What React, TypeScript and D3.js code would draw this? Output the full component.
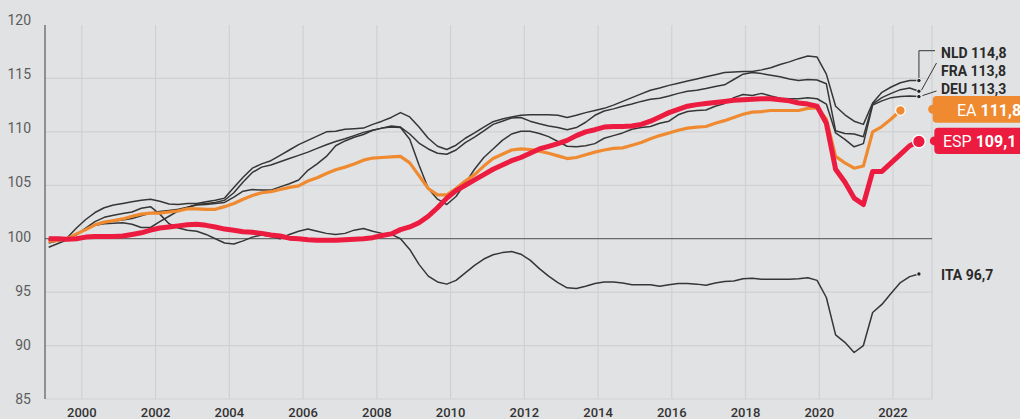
import React from "react";
import * as d3 from "d3";

// ---------- data (quarterly, 1999Q1 ...) ----------
const xTickYears = [2000, 2002, 2004, 2006, 2008, 2010, 2012, 2014, 2016, 2018, 2020, 2022];
const yTickValues = [85, 90, 95, 100, 105, 110, 115, 120];
const gridValues = [85, 90, 95, 105, 110, 115];
const firstQuarter = 1999.1;
const quarterStep = 0.2511;

const esp = [
  100.0, 100.0, 99.95, 100.0,
  100.15, 100.2, 100.2, 100.2,
  100.25, 100.4, 100.55, 100.8,
  101.0, 101.1, 101.2, 101.3,
  101.35, 101.25, 101.1, 100.9,
  100.8, 100.65, 100.6, 100.5,
  100.35, 100.25, 100.05, 100.0,
  99.9, 99.85, 99.85, 99.85,
  99.9, 99.95, 100.0, 100.1,
  100.3, 100.45, 100.85, 101.1,
  101.5, 102.1, 102.9, 103.8,
  104.5, 105.0, 105.5, 106.0,
  106.5, 106.9, 107.3, 107.6,
  108.0, 108.4, 108.65, 108.9,
  109.2, 109.65, 110.0, 110.2,
  110.45, 110.5, 110.5, 110.55,
  110.7, 111.0, 111.4, 111.8,
  112.1, 112.4, 112.55, 112.65,
  112.75, 112.85, 112.95, 113.0,
  113.05, 113.1, 113.1, 113.0,
  112.9, 112.7, 112.6, 112.4,
  110.8, 106.5, 105.3, 103.8,
  103.2, 106.3, 106.3, 107.1,
  107.9, 108.7, 109.1,
];

const ea = [
  99.75, 99.85, 100.0, 100.45,
  100.85, 101.3, 101.55, 101.7,
  101.85, 102.1, 102.3, 102.4,
  102.4, 102.5, 102.6, 102.8,
  102.8, 102.75, 102.75, 103.0,
  103.3, 103.7, 104.05, 104.3,
  104.4, 104.6, 104.8, 104.95,
  105.4, 105.7, 106.1, 106.45,
  106.7, 107.0, 107.35, 107.55,
  107.6, 107.65, 107.7, 107.1,
  105.9, 104.7, 104.1, 104.1,
  104.7, 105.4, 106.0, 106.8,
  107.5, 107.9, 108.3, 108.4,
  108.35, 108.2, 108.0, 107.75,
  107.5, 107.6, 107.85, 108.1,
  108.3, 108.45, 108.5, 108.75,
  109.0, 109.35, 109.65, 109.9,
  110.15, 110.35, 110.45, 110.5,
  110.8, 111.05, 111.35, 111.65,
  111.85, 111.9, 112.0, 112.0,
  112.0, 112.0, 112.2, 112.25,
  111.2, 107.7, 107.1, 106.6,
  106.8, 110.0, 110.5, 111.2,
  112.0,
];

const nld = [
  99.6, 99.8, 100.1, 101.0,
  101.8, 102.45, 102.9, 103.15,
  103.3, 103.45, 103.6, 103.7,
  103.5, 103.25, 103.2, 103.3,
  103.3, 103.45, 103.6, 103.8,
  104.8, 105.75, 106.6, 107.0,
  107.3, 107.8, 108.3, 108.8,
  109.2, 109.6, 110.0, 110.05,
  110.25, 110.3, 110.35, 110.7,
  111.0, 111.35, 111.8, 111.4,
  110.45, 109.4, 108.65, 108.35,
  108.75, 109.4, 109.9, 110.45,
  110.95, 111.2, 111.4, 111.55,
  111.6, 111.6, 111.6, 111.55,
  111.35, 111.55, 111.8, 112.0,
  112.2, 112.5, 112.85, 113.2,
  113.55, 113.9, 114.1, 114.35,
  114.55, 114.75, 114.95, 115.15,
  115.35, 115.55, 115.6, 115.65,
  115.65, 115.8, 116.0, 116.3,
  116.55, 116.85, 117.1, 117.0,
  115.4, 112.4, 111.6, 111.0,
  110.7, 112.7, 113.7, 114.2,
  114.6, 114.8, 114.8,
];

const fra = [
  99.9, 99.85, 100.0, 100.4,
  100.9, 101.3, 101.55, 101.65,
  101.75, 101.9, 102.15, 102.4,
  102.55, 102.65, 102.75, 102.95,
  103.2, 103.3, 103.4, 103.6,
  104.3, 105.3, 106.2, 106.7,
  106.9, 107.2, 107.5, 107.8,
  108.1, 108.45, 108.8, 109.1,
  109.35, 109.65, 109.95, 110.15,
  110.35, 110.55, 110.45, 109.8,
  108.95, 108.4, 108.0, 107.9,
  108.3, 109.0, 109.5, 110.1,
  110.7, 111.0, 111.3, 111.35,
  111.0, 110.75, 110.55, 110.4,
  110.2, 110.4, 110.9, 111.55,
  111.95, 112.15, 112.4, 112.6,
  112.85, 113.05, 113.15, 113.35,
  113.6, 113.8, 113.9, 114.05,
  114.25, 114.4, 114.9, 115.4,
  115.55, 115.45, 115.3, 115.15,
  114.95, 114.8, 114.9, 114.85,
  114.5, 110.1, 109.85, 109.8,
  109.55, 112.6, 113.2, 113.6,
  113.95, 114.1, 113.8,
];

const deu = [
  99.2, 99.55, 99.9, 100.45,
  100.9, 101.25, 101.4, 101.45,
  101.5, 101.35, 101.05, 101.05,
  101.6, 102.1, 102.6, 102.95,
  103.15, 103.2, 103.3, 103.4,
  103.9, 104.45, 104.6, 104.55,
  104.55, 104.85, 105.15, 105.5,
  106.4, 107.0, 107.7, 108.7,
  109.15, 109.5, 109.75, 110.15,
  110.35, 110.45, 110.4, 109.3,
  106.9, 104.7, 103.7, 103.2,
  103.95, 105.2, 106.5, 107.6,
  108.4, 109.2, 109.8, 110.05,
  110.05, 109.85, 109.55, 109.1,
  108.65, 108.6, 108.7, 108.9,
  109.4, 109.65, 109.9, 110.25,
  110.4, 110.5, 110.8, 111.0,
  111.6, 111.9, 112.0, 112.05,
  112.4, 112.65, 113.2, 113.5,
  113.4, 113.6, 113.35, 113.15,
  113.1, 113.1, 113.2, 113.1,
  112.6, 109.9, 109.3, 108.6,
  108.9, 112.5, 112.9, 113.2,
  113.3, 113.35, 113.3,
];

const ita = [
  99.9, 99.8, 100.05, 100.35,
  101.0, 101.6, 102.0, 102.2,
  102.35, 102.5, 102.85, 103.0,
  102.3, 101.4, 101.0, 100.8,
  100.7, 100.4, 100.0, 99.6,
  99.5, 99.8, 100.15, 100.35,
  100.2, 100.0, 100.4, 100.7,
  100.9, 100.7, 100.5, 100.4,
  100.5, 100.8, 100.95, 100.7,
  100.5, 100.4, 100.0, 99.0,
  97.6, 96.5, 95.95, 95.75,
  96.1, 96.8, 97.5, 98.1,
  98.5, 98.7, 98.8, 98.55,
  98.0, 97.2, 96.5, 95.9,
  95.4, 95.35, 95.55, 95.8,
  95.95, 95.95, 95.85, 95.7,
  95.7, 95.7, 95.55, 95.7,
  95.8, 95.8, 95.75, 95.65,
  95.85, 96.0, 96.05, 96.25,
  96.3, 96.2, 96.2, 96.2,
  96.2, 96.25, 96.35, 96.1,
  94.5, 91.0, 90.3, 89.35,
  90.0, 93.1, 93.85, 94.9,
  95.9, 96.45, 96.7,
];

const greyNames = ["NLD", "FRA", "DEU", "ITA"];
const greyValues = ["114,8", "113,8", "113,3", "96,7"];
const eaLabel = ["EA", "111,8"];
const espLabel = ["ESP", "109,1"];

// ---------- layout ----------
const W = 1020;
const H = 419;
const L = 45;
const R = 932;
const T = 25;
const B = 399;
const BG = "#e1e2e4";
const GRID = "#d0d1d4";
const GREY = "#363636";
const ORANGE = "#ef8a30";
const RED = "#ec1b40";
const FONT = "Roboto, 'Noto Sans', sans-serif";

export default function App() {
  const x = d3.scaleLinear().domain([1999, 2023.058]).range([L, R]);
  const y = d3.scaleLinear().domain([85, 120]).range([B, T]);
  const yLab = d3.scaleLinear().domain([85, 120]).range([B, 20]);
  const tq = (i: number) => firstQuarter + i * quarterStep;
  const line = d3
    .line<number>()
    .x((_, i) => x(tq(i)))
    .y((d) => y(d))
    .curve(d3.curveLinear);

  const greys = [nld, fra, deu, ita];
  const lastX = (arr: number[]) => x(tq(arr.length - 1));
  const lastY = (arr: number[]) => y(arr[arr.length - 1]);

  const greyLabelY = [58, 76, 94, lastY(ita) + 6];

  const eaX = lastX(ea);
  const eaY = lastY(ea);
  const espX = lastX(esp);
  const espY = lastY(esp);

  const nx = lastX(nld);
  const ny = lastY(nld);
  const fy = lastY(fra);
  const dy = lastY(deu);

  return (
    <div style={{ position: "absolute", left: 0, top: 0, width: W, height: H }}>
      <svg width={W} height={H} style={{ display: "block", fontFamily: FONT }}>
        <rect x={0} y={0} width={W} height={H} fill={BG} />

        {/* grid */}
        {gridValues.map((v) => (
          <line key={"h" + v} x1={L} x2={R} y1={y(v)} y2={y(v)} stroke={GRID} strokeWidth={1.2} />
        ))}
        {xTickYears.map((yr) => (
          <line key={"v" + yr} x1={x(yr)} x2={x(yr)} y1={T} y2={B} stroke={GRID} strokeWidth={1.2} />
        ))}
        <line x1={R} x2={R} y1={T} y2={B} stroke={GRID} strokeWidth={1.2} />
        <line x1={L} x2={R} y1={y(100)} y2={y(100)} stroke="#6a6a6a" strokeWidth={1.2} />
        <line x1={L} x2={L} y1={T} y2={B} stroke="#5a5a5a" strokeWidth={1.2} />

        {/* y labels */}
        {yTickValues.map((v) => (
          <text key={"yl" + v} x={31} y={yLab(v)} dy="0.36em" textAnchor="end" fontSize={14} fill="#5c5c5c">
            {v}
          </text>
        ))}
        {/* x labels */}
        {xTickYears.map((yr) => (
          <text key={"xl" + yr} x={x(yr)} y={417} textAnchor="middle" fontSize={13} fontWeight={500} fill="#333">
            {yr}
          </text>
        ))}

        {/* grey series */}
        {greys.map((arr, k) => (
          <path key={"g" + k} d={line(arr) || ""} fill="none" stroke={GREY} strokeWidth={1.5} strokeLinejoin="round" />
        ))}

        {/* EA */}
        <path d={line(ea) || ""} fill="none" stroke={ORANGE} strokeWidth={3.2} strokeLinejoin="round" />
        {/* ESP */}
        <path d={line(esp) || ""} fill="none" stroke={RED} strokeWidth={5} strokeLinejoin="round" />

        {/* leaders */}
        <path d={`M${nx},${ny} V50.7 H935`} fill="none" stroke={GREY} strokeWidth={1} />
        <path d={`M${nx + 2.5},${fy - 1} L936.5,63`} fill="none" stroke={GREY} strokeWidth={1} />
        <path d={`M${nx + 3.5},${dy - 1} L936.5,91`} fill="none" stroke={GREY} strokeWidth={1} />

        {/* grey end dots */}
        {greys.map((arr, k) => (
          <circle key={"d" + k} cx={lastX(arr)} cy={lastY(arr)} r={2.2} fill="#222" stroke="#f2f2f2" strokeWidth={1} />
        ))}
        {/* grey labels */}
        {greyNames.map((n, k) => (
          <text key={"gl" + n} x={941} y={greyLabelY[k]} fontSize={14} fontWeight={700} fill="#2a2a2a">
            {n} {greyValues[k]}
          </text>
        ))}

        {/* EA end */}
        <circle cx={eaX} cy={eaY} r={4.8} fill={ORANGE} stroke="#fff" strokeWidth={1.2} />
        <rect x={932.7} y={96} width={100} height={26.7} rx={4} fill={ORANGE} />
        <circle cx={932.7} cy={109.3} r={4.5} fill={ORANGE} />
        <text x={957} y={115.5} fontSize={16} fill="#fff">
          {eaLabel[0]} <tspan fontWeight={700}>{eaLabel[1]}</tspan>
        </text>

        {/* ESP end */}
        <circle cx={espX} cy={espY} r={6.3} fill={RED} stroke="#fff" strokeWidth={1.3} />
        <rect x={934.3} y={127.7} width={100} height={26.3} rx={4} fill={RED} />
        <circle cx={934.3} cy={140.9} r={4.5} fill={RED} />
        <text x={943} y={146.6} fontSize={16} fill="#fff">
          {espLabel[0]} <tspan fontWeight={700}>{espLabel[1]}</tspan>
        </text>
      </svg>
    </div>
  );
}
